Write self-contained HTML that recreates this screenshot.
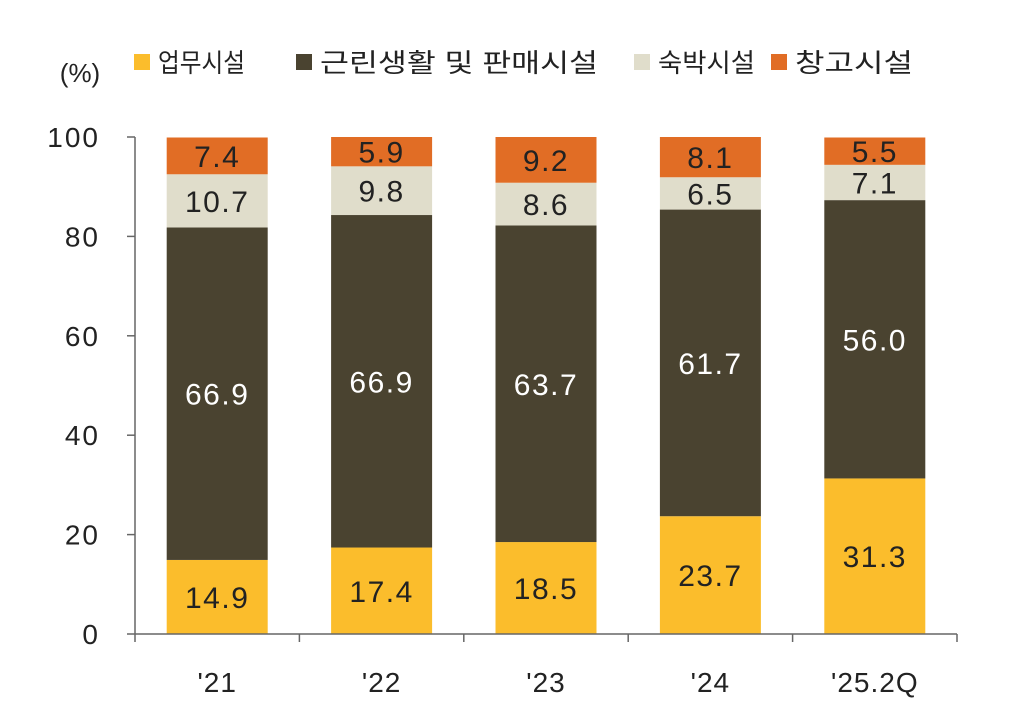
<!DOCTYPE html>
<html><head><meta charset="utf-8">
<style>
body{margin:0;background:#fff;}
svg text{font-family:"Liberation Sans","Noto Sans CJK KR",sans-serif;}
</style></head>
<body>
<svg id="chart" width="1020" height="713" viewBox="0 0 1020 713" xmlns="http://www.w3.org/2000/svg">
<g id="legend"></g>
<text x="80" y="82" font-size="26" text-anchor="middle" fill="#222">(%)</text>
<g id="yaxis"></g>
<g id="bars"></g>
<g id="xaxis"></g>
</svg>
<script>
const categories=["'21","'22","'23","'24","'25.2Q"];
const office=[14.9,17.4,18.5,23.7,31.3];
const retail=[66.9,66.9,63.7,61.7,56.0];
const lodging=[10.7,9.8,8.6,6.5,7.1];
const warehouse=[7.4,5.9,9.2,8.1,5.5];
const yTicks=[0,20,40,60,80,100];
const seriesNames=["업무시설","근린생활 및 판매시설","숙박시설","창고시설"];

const colors=["#FBBD2C","#4A4330","#E0DDCB","#E16D25"];
const textColors=["#222","#fff","#222","#222"];
const legendX=[134,296,634,771];
const legendW=[87,278,97,118];
const NS="http://www.w3.org/2000/svg";
const x0=135,x1=957,yBase=634,yTop=137;
const y=v=>yBase-(v/100)*(yBase-yTop);
const step=(x1-x0)/categories.length;
const cx=i=>x0+step*(i+0.5);
const bw=101;
function mk(t,attrs,parent){const e=document.createElementNS(NS,t);for(const k in attrs)e.setAttribute(k,attrs[k]);parent.appendChild(e);return e;}

const lg=document.getElementById('legend');
seriesNames.forEach((n,i)=>{
  const r=mk('rect',{x:legendX[i],y:54,width:16,height:16,fill:colors[i]},lg);
  
  
  const t=mk('text',{x:legendX[i]+24,y:72,'font-size':26,fill:'#222',textLength:legendW[i],lengthAdjust:'spacingAndGlyphs'},lg);
  t.textContent=n;
  
  
});

const ya=document.getElementById('yaxis');
const al=mk('line',{x1:x0,y1:yTop,x2:x0,y2:yBase,stroke:'#666','stroke-width':1.5},ya);


yTicks.forEach(v=>{
  const tk=mk('line',{x1:x0-8,y1:y(v),x2:x0,y2:y(v),stroke:'#666','stroke-width':1.5},ya);
  
  
  const t=mk('text',{x:100,y:y(v)+10,'font-size':28,'letter-spacing':2,'text-anchor':'end',fill:'#222'},ya);
  t.textContent=v;
  
  
});

const xa=document.getElementById('xaxis');
const xl=mk('line',{x1:x0,y1:yBase,x2:x1,y2:yBase,stroke:'#666','stroke-width':1.5},xa);


for(let i=0;i<=categories.length;i++){
  const tk=mk('line',{x1:x0+step*i,y1:yBase,x2:x0+step*i,y2:yBase+8,stroke:'#666','stroke-width':1.5},xa);
  
  
}
categories.forEach((c,i)=>{
  const t=mk('text',{x:cx(i),y:692,'font-size':28,'letter-spacing':1,'text-anchor':'middle',fill:'#222'},xa);
  t.textContent=c;
  
  
});

const bg=document.getElementById('bars');
const series=[office,retail,lodging,warehouse];
categories.forEach((c,i)=>{
  let cum=0;
  series.forEach((s,k)=>{
    const v=s[i];
    const r=mk('rect',{x:cx(i)-bw/2,y:y(cum+v),width:bw,height:y(cum)-y(cum+v),fill:colors[k]},bg);
    
    
    const t=mk('text',{x:cx(i),y:y(cum+v/2)+11,'font-size':30,'letter-spacing':1.5,'text-anchor':'middle',fill:textColors[k]},bg);
    t.textContent=v.toFixed(1);
    
    
    cum+=v;
  });
});
</script>
</body></html>
